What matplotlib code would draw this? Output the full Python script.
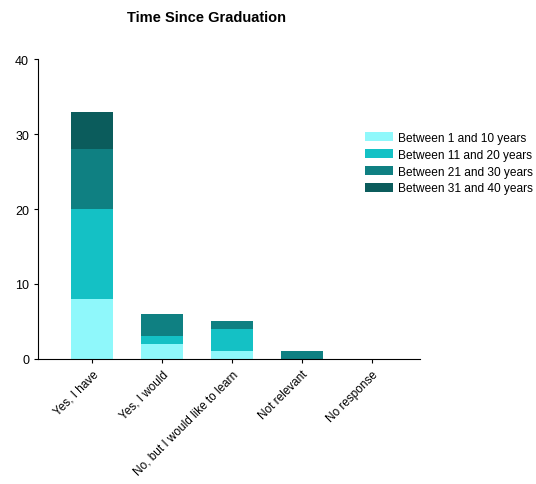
import numpy as np
import matplotlib
matplotlib.use('Agg')
from matplotlib import pyplot as plt

categorias = ['Yes, I have', 'Yes, I would', 'No, but I would like to learn',
              'Not relevant', 'No response']
series = ['Between 1 and 10 years', 'Between 11 and 20 years',
          'Between 21 and 30 years', 'Between 31 and 40 years']
v_1_10 = [8, 2, 1, 0, 0]
v_11_20 = [12, 1, 3, 0, 0]
v_21_30 = [8, 3, 1, 1, 0]
v_31_40 = [5, 0, 0, 0, 0]
colores = ['#8ff8fb', '#14c1c5', '#0f8082', '#0b5c5c']

plt.rcParams['font.family'] = ['Liberation Sans', 'DejaVu Sans']
fig = plt.figure(figsize=(5.36, 4.85), dpi=100)
ax = fig.add_axes([0.071, 0.258, 0.713, 0.618])

x = np.arange(len(categorias))
base = np.zeros(len(categorias))
for nombre, vals, c in zip(series, [v_1_10, v_11_20, v_21_30, v_31_40], colores):
    ax.bar(x, vals, width=0.6, bottom=base, color=c, label=nombre)
    base += np.array(vals)

ax.set_xlim(-0.77, 4.69)
ax.set_ylim(0, 40)
ax.set_yticks([0, 10, 20, 30, 40])
ax.set_xticks(x)
ax.set_xticklabels(categorias, rotation=45, ha='right', rotation_mode='anchor', fontsize=8.5)
ax.tick_params(axis='y', labelsize=9, length=3)
ax.tick_params(axis='x', length=3)
for s in ['top', 'right']:
    ax.spines[s].set_visible(False)
ax.set_title('Time Since Graduation', fontsize=10.5, fontweight='bold', x=0.44, y=1.1)
ax.legend(loc='upper left', bbox_to_anchor=(0.855, 0.757), frameon=False, fontsize=8.6,
          handlelength=2.35, handleheight=0.75, handletextpad=0.45, labelspacing=0.4,
          borderaxespad=0, borderpad=0)

fig.savefig('out.png', dpi=100)
